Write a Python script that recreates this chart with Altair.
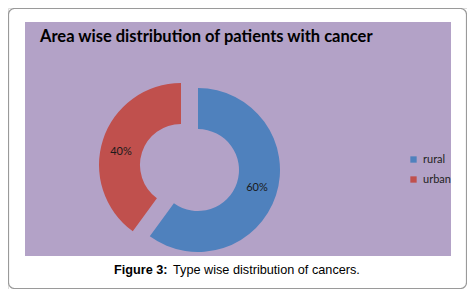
import math
import altair as alt
import pandas as pd

# ---- data ----
categories = ["rural", "urban"]
values = [60, 40]
colors = ["#4f81bd", "#c0504d"]
title_text = "Area wise distribution of patients with cancer"
caption_bold = "Figure 3:"
caption_rest = "Type wise distribution of cancers."

df = pd.DataFrame({"area": categories, "pct": values})
one = pd.DataFrame({"k": [0]})

W, H = 459, 281
PURPLE = "#b3a2c7"

cx, cy = 190, 162           # centre of the donut
ex, ey = 173, 157           # centre of the exploded slice
R_OUT, R_IN = 82, 41

theta_scale = alt.Scale(domain=[0, 100], range=[0, 2 * math.pi])
color_scale = alt.Scale(domain=categories, range=colors)

base = (
    alt.Chart(df)
    .transform_window(end="sum(pct)", sort=[alt.SortField("area")], frame=[None, 0])
    .transform_calculate(start="datum.end - datum.pct",
                         mid="datum.end - datum.pct / 2",
                         label="datum.pct + '%'")
)

border = alt.Chart(one).mark_rect(fill="white", stroke="#9a9a9a", strokeWidth=1.2,
                                  cornerRadius=6).encode(
    x=alt.value(0.5), x2=alt.value(W - 0.5), y=alt.value(0.5), y2=alt.value(H - 0.5))

panel = alt.Chart(one).mark_rect(fill=PURPLE).encode(
    x=alt.value(17), x2=alt.value(443), y=alt.value(14), y2=alt.value(248))

title = alt.Chart(one).mark_text(
    text=title_text, font="Lato", fontWeight="bold", fontSize=16.5, align="left",
    baseline="alphabetic", color="#000000").encode(x=alt.value(32), y=alt.value(34))

cap1 = alt.Chart(one).mark_text(
    text=caption_bold, font="Liberation Sans", fontWeight="bold", fontSize=12.7,
    align="left", baseline="alphabetic", color="#000000").encode(x=alt.value(106), y=alt.value(266))
cap2 = alt.Chart(one).mark_text(
    text=caption_rest, font="Liberation Sans", fontSize=12.7,
    align="left", baseline="alphabetic", color="#000000").encode(x=alt.value(165), y=alt.value(266))

color_enc = alt.Color("area:N", scale=color_scale,
                      legend=alt.Legend(title=None, orient="none", legendX=400, legendY=146,
                                        symbolType="square", symbolSize=40, symbolStrokeWidth=0,
                                        labelFont="Lato", labelFontSize=11, labelColor="#222222",
                                        rowPadding=8, labelOffset=4))

arc_rural = base.transform_filter("datum.area == 'rural'").mark_arc(
    outerRadius=R_OUT, innerRadius=R_IN).encode(
    theta=alt.Theta("start:Q", scale=theta_scale), theta2="end:Q",
    color=color_enc, x=alt.value(cx), y=alt.value(cy))

arc_urban = base.transform_filter("datum.area == 'urban'").mark_arc(
    outerRadius=R_OUT, innerRadius=R_IN).encode(
    theta=alt.Theta("start:Q", scale=theta_scale), theta2="end:Q",
    color=color_enc, x=alt.value(ex), y=alt.value(ey))

lab_rural = base.transform_filter("datum.area == 'rural'").mark_text(
    radius=62, dy=-1, font="Lato", fontSize=11, color="#1a1a1a").encode(
    theta=alt.Theta("mid:Q", scale=theta_scale), text="label:N",
    x=alt.value(cx), y=alt.value(cy))

lab_urban = base.transform_filter("datum.area == 'urban'").mark_text(
    radius=61, dx=-2, dy=6, font="Lato", fontSize=11, color="#1a1a1a").encode(
    theta=alt.Theta("mid:Q", scale=theta_scale), text="label:N",
    x=alt.value(ex), y=alt.value(ey))

chart = alt.layer(border, panel, title, cap1, cap2, arc_rural, arc_urban,
                  lab_rural, lab_urban).properties(
    width=W, height=H, padding=0, autosize=alt.AutoSizeParams(type="none")
).configure_view(stroke=None).configure(background="white")

chart.save("out.html", embed_options={"renderer": "svg", "actions": False})
